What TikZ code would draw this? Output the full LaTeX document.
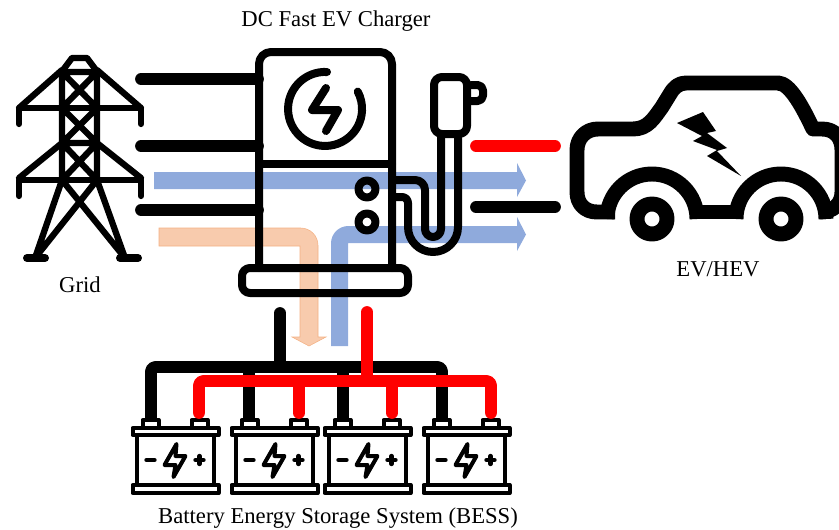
\documentclass[tikz,border=0pt]{standalone}
\usepackage{fontspec}
\setmainfont{Liberation Serif}
\definecolor{flowblue}{HTML}{8FAADC}
\definecolor{floworange}{HTML}{F8CBAD}
\definecolor{orangeedge}{HTML}{F4B183}
\tikzset{
  icon/.style={line width=6pt, line cap=round, line join=round},
  thin icon/.style={line width=4.7pt, line cap=round, line join=round},
  wire/.style={line width=8.8pt, line cap=round, line join=round},
  car line/.style={line width=11.2pt, line join=round},
  label/.style={font=\fontsize{17}{20}\selectfont, inner sep=0pt},
  pics/battery/.style={code={
    \draw[line width=3pt, line join=round] (-43,2) rectangle (43,9);
    \draw[line width=3pt, line join=round] (-43,59) rectangle (43,67);
    \draw[line width=3pt] (-38.5,9) -- (-38.5,59) (38.5,9) -- (38.5,59);
    \draw[line width=3pt, line join=round] (-33,2) -- (-33,-6) -- (-17,-6) -- (-17,2) -- (-8,2);
    \draw[line width=3pt, line join=round] (16,2) -- (16,-6) -- (32,-6) -- (32,2);
    \draw[line width=3pt] (-1,2) -- (1,2) (6,2) -- (16,2);
    \draw[line width=3.3pt, line cap=round] (-29,34) -- (-21,34) (20,34) -- (28,34) (24,30) -- (24,38);
    \draw[line width=3pt, line join=round, line cap=round] (1,18) -- (-11,39) -- (0,39) -- (-2,51) -- (10,30) -- (0,30) -- cycle;
  }}
}

\begin{document}
\begin{tikzpicture}[x=0.75pt, y=-0.75pt]
\clip (0, 0) rectangle (839, 529);

\path (336, 21) node[label] (charger label) {DC Fast EV Charger}
      (80, 285) node[label] (grid label) {Grid}
      (718, 269) node[label] (car label) {EV/HEV}
      (338, 518) node[label] (bess label) {Battery Energy Storage System (BESS)};

% power flow arrows
\fill[flowblue] (154, 172) -- (517, 172) -- (517, 163) -- (526, 180.5) -- (517, 197) -- (517, 189) -- (154, 189) -- cycle;
\fill[flowblue] (331, 346) -- (331, 243) [rounded corners=13pt] -- (331, 226) [sharp corners] -- (517, 226) -- (517, 217) -- (526, 234.5) -- (517, 251) -- (517, 243) -- (348, 243) -- (348, 346) -- cycle;
\filldraw[fill=floworange, draw=orangeedge, line width=0.4pt] (159, 228) [rounded corners=13pt] -- (318, 228) [sharp corners] -- (318, 337) -- (326, 337) -- (309, 346) -- (292, 337) -- (300, 337) -- (300, 246) -- (159, 246) -- cycle;

% grid tower
\draw[thin icon] (62, 72) -- (62, 180) (97, 72) -- (97, 180)
      (62, 72) -- (97, 72) (62, 143) -- (97, 143)
      (62, 72) -- (97, 108) (97, 72) -- (62, 108)
      (62, 108) -- (97, 143) (97, 108) -- (62, 143)
      (62, 143) -- (97, 180) (97, 143) -- (62, 180);
\draw[thin icon] (63, 70) -- (72, 58) -- (87, 58) -- (96, 70);
\draw[thin icon] (19, 124) -- (19, 108) -- (141, 108) -- (141, 124);
\draw[thin icon] (19, 196) -- (19, 180) -- (141, 180) -- (141, 196);
\draw[thin icon] (19, 108) -- (62, 70) (141, 108) -- (97, 70);
\draw[thin icon] (19, 178) -- (62, 143) (141, 178) -- (97, 143);
\draw[thin icon] (62, 180) -- (35, 258) (97, 180) -- (125, 258)
      (62, 180) -- (125, 258) (97, 180) -- (35, 258);
\draw[icon] (27, 258) -- (45, 258) (120, 258) -- (138, 258);

% charger
\draw[icon] (259, 268) [rounded corners=9pt] -- (259, 52) -- (392, 52) [sharp corners] [rounded corners=9pt] -- (392, 268);
\draw[icon] (259, 164) -- (392, 164);
\draw[icon, rounded corners=6pt] (242, 268) rectangle (408, 293);
\draw[icon] (327, 72) arc[start angle=-87, end angle=-388, radius=37];
\draw[icon] (326, 88) -- (312, 110) -- (338, 110) -- (326, 131);
\draw[icon] (367, 189) circle[radius=8.5];
\draw[icon] (367, 222) circle[radius=8.5];
\draw[icon, rounded corners=6pt] (434, 77) rectangle (467, 134);
\draw[icon, rounded corners=4pt] (471, 85) -- (483, 85) -- (483, 101) -- (471, 101);
\draw[icon] (396, 180) -- (415, 180) arc[start angle=-90, end angle=0, radius=10] -- (425, 229) arc[start angle=180, end angle=0, radius=8] -- (441, 136);
\draw[icon] (396, 197) -- (402, 197) arc[start angle=-90, end angle=0, radius=6] -- (408, 227) arc[start angle=180, end angle=0, radius=25] -- (458, 136);

% car
\draw[car line] (615, 212) -- (597, 212) .. controls (585, 212) and (577, 204) .. (577, 192) -- (577, 150)
      .. controls (577, 138) and (586, 129) .. (598, 129) -- (633, 129)
      .. controls (648, 129) and (654, 118) .. (662, 107) -- (670, 94)
      .. controls (674, 87) and (679, 83) .. (686, 83) -- (778, 83)
      .. controls (790, 83) and (803, 108) .. (813, 129) -- (822, 129)
      .. controls (835, 129) and (842, 138) .. (842, 150) -- (842, 192)
      .. controls (842, 204) and (833, 212) .. (820, 212);
\draw[car line] (607, 219) arc[start angle=180, end angle=360, radius=45];
\draw[car line] (736, 219) arc[start angle=180, end angle=360, radius=45];
\draw[car line] (690, 212) -- (743, 212);
\draw[car line] (652, 219) circle[radius=15];
\draw[car line] (781, 219) circle[radius=15];
\fill (677, 123) -- (703, 112) -- (716, 131) -- (707, 133) -- (727, 148) -- (717, 151) -- (741, 176) -- (707, 156) -- (717, 150) -- (693, 141) -- (702, 136) -- cycle;

% batteries
\path (175.5, 426) pic {battery}
      (274.5, 426) pic {battery}
      (367.5, 426) pic {battery}
      (466.5, 426) pic {battery};

% wire ends
\path (141, 79) coordinate (g1) (258, 79) coordinate (c1)
      (141, 146) coordinate (g2) (258, 146) coordinate (c2)
      (141, 210) coordinate (g3) (258, 210) coordinate (c3)
      (476, 146) coordinate (r1) (555, 146) coordinate (r2)
      (476, 207) coordinate (k1) (555, 207) coordinate (k2)
      (280, 313) coordinate (bk) (280, 367) coordinate (bk bus)
      (367, 312) coordinate (rd) (367, 381) coordinate (rd bus)
      (151, 418) coordinate (b1) (249, 418) coordinate (b2)
      (343, 418) coordinate (b3) (442, 418) coordinate (b4)
      (199, 413) coordinate (p1) (299, 413) coordinate (p2)
      (392, 413) coordinate (p3) (491, 413) coordinate (p4);

\draw[wire] (g1) -- (c1);
\draw[wire] (g2) -- (c2);
\draw[wire] (g3) -- (c3);
\draw[wire, red] (r1) -- (r2);
\draw[wire] (k1) -- (k2);

\draw[wire] (bk) -- (bk bus);
\draw[wire, line cap=butt] (b2) -- (249, 367);
\draw[wire, line cap=butt] (b3) -- (343, 367);
\draw[wire, line cap=butt, rounded corners=3pt] (b1) -- (151, 367) -- (442, 367) -- (b4);

\draw[wire, red] (rd) -- (rd bus);
\draw[wire, red] (p2) -- (299, 381);
\draw[wire, red] (p3) -- (392, 381);
\draw[wire, red, rounded corners=3pt] (p1) -- (199, 381) -- (491, 381) -- (p4);
\end{tikzpicture}
\end{document}
